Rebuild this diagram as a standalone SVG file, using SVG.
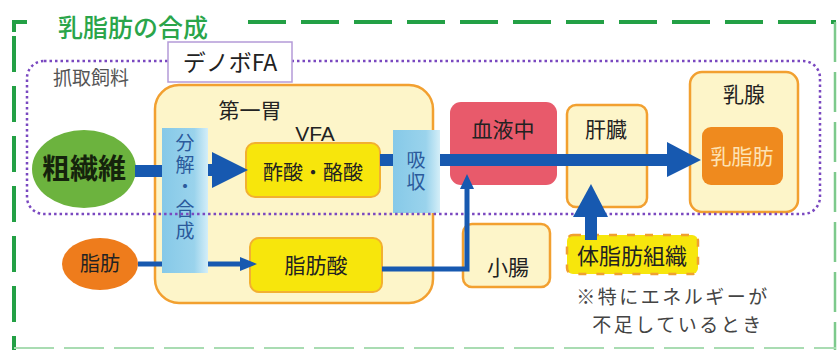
<svg xmlns="http://www.w3.org/2000/svg" width="838" height="350" viewBox="0 0 838 350">
<defs>
<style>
text{font-family:"Noto Sans CJK JP","Noto Sans",sans-serif;text-anchor:middle;fill:#222;}
.lbl{font-size:21px;}
.frame{fill:none;stroke:#23a045;stroke-width:4;}
.ybox{fill:#fdf5c9;stroke:#f2a030;stroke-width:2.5;}
.vbox{fill:#f7e60c;stroke:#f2b030;stroke-width:2;}
.blue{fill:url(#bg);}
.vt{font-size:19px;fill:#2b5a9c;writing-mode:vertical-rl;}
.note{font-size:19px;fill:#444;letter-spacing:2.5px;}
.thick{stroke:#1759b0;stroke-width:12;fill:none;}
.thin{stroke:#1759b0;stroke-width:5;fill:none;}
.head{fill:#1759b0;}
</style>
<linearGradient id="bg" x1="0" y1="0" x2="1" y2="0">
<stop offset="0" stop-color="#86c9e8"/>
<stop offset="0.7" stop-color="#9ad3ec"/>
<stop offset="1" stop-color="#d4eef8"/>
</linearGradient>
</defs>
<rect width="838" height="350" fill="#ffffff"/>

<g id="frame">
<path class="frame" d="M14 32 V22 H27"/>
<path class="frame" d="M14 36 V350" stroke-dasharray="36 14"/>
<path class="frame" d="M248 22 H836" stroke-dasharray="38 15"/>
<path d="M835 22 V350" fill="none" stroke="#7dc98c" stroke-width="2.5" stroke-dasharray="40 10"/>
<path d="M14 348 H836" fill="none" stroke="#a9dcb2" stroke-width="2" stroke-dasharray="40 10"/>
<text x="133" y="37" style="font-size:25px;fill:#2aa54a;font-weight:500">乳脂肪の合成</text>
</g>

<g id="rumen">
<rect class="ybox" x="155" y="85" width="278" height="218" rx="24"/>
<text class="lbl" x="250" y="118">第一胃</text>
<text x="315" y="141" style="font-family:'Liberation Sans',sans-serif;font-size:21px">VFA</text>
</g>

<g id="bunkai">
<rect class="blue" x="162" y="128" width="46" height="145"/>
<text class="vt" x="185" y="188" letter-spacing="3">分解・合成</text>
</g>

<g id="kyushu">
<rect class="blue" x="393" y="130" width="47" height="83"/>
<text class="vt" x="416" y="172" letter-spacing="3">吸収</text>
</g>

<g id="sakusan">
<rect class="vbox" x="246" y="143" width="134" height="54" rx="9"/>
<text class="lbl" x="313" y="180" style="font-size:20px">酢酸・酪酸</text>
</g>

<g id="shibousan">
<rect class="vbox" x="250" y="238" width="132" height="54" rx="9"/>
<text class="lbl" x="316" y="273">脂肪酸</text>
</g>

<g id="soseni">
<ellipse cx="84" cy="169" rx="52" ry="39" fill="#6cb33e"/>
<text x="84" y="179" style="font-size:28px;font-weight:bold;fill:#15230c">粗繊維</text>
</g>

<g id="shibou">
<ellipse cx="100" cy="264" rx="38" ry="26" fill="#ee7c1c"/>
<text class="lbl" x="100" y="271" style="font-size:20px">脂肪</text>
</g>

<g id="ketsueki">
<rect x="450" y="102" width="107" height="83" rx="11" fill="#e85a6b"/>
<text class="lbl" x="503" y="137">血液中</text>
</g>

<g id="kanzo">
<rect class="ybox" x="567" y="105" width="80" height="102" rx="9"/>
<text class="lbl" x="606" y="137">肝臓</text>
</g>

<g id="nyusen">
<rect class="ybox" x="690" y="72" width="108" height="140" rx="12"/>
<text class="lbl" x="744" y="102">乳腺</text>
<rect x="702" y="127" width="81" height="58" rx="9" fill="#ef8a1e"/>
<text class="lbl" x="742" y="164" style="fill:#fde2b4">乳脂肪</text>
</g>

<g id="shocho">
<rect class="ybox" x="463" y="224" width="87" height="63" rx="9"/>
<text class="lbl" x="508" y="275">小腸</text>
</g>

<g id="taishibou">
<rect x="567" y="235" width="131" height="39" rx="6" fill="#f7e60c" stroke="#f0a030" stroke-width="2.5" stroke-dasharray="8 10"/>
<text class="lbl" x="632" y="264" style="font-size:22px">体脂肪組織</text>
</g>

<g id="note">
<text class="note" x="673" y="304">※特にエネルギーが</text>
<text class="note" x="678" y="332">不足しているとき</text>
</g>

<g id="feed">
<rect x="27" y="61" width="793" height="153" rx="17" fill="none" stroke="#7a48c0" stroke-width="2.5" stroke-dasharray="2.5 3"/>
<rect x="168" y="42" width="124" height="40" fill="#ffffff" stroke="#b49ad8" stroke-width="1.5"/>
<text x="230" y="71" style="font-size:23px;fill:#222">デノボFA</text>
<text x="91" y="85" style="font-size:19px;fill:#555">抓取飼料</text>
</g>

<g id="connectors">
<path class="thick" d="M135 171 H162"/>
<path class="thick" d="M208 170 H214"/>
<polygon class="head" points="212,152 248,170 212,188"/>
<path class="thick" d="M380 160 H393"/>
<path class="thick" d="M440 160 H670"/>
<polygon class="head" points="667,142 701,160 667,177"/>
<path class="thin" d="M138 264 H162"/>
<path class="thin" d="M208 264 H242"/>
<polygon class="head" points="240,257 257,264 240,271"/>
<path class="thin" d="M382 269 H467 V186"/>
<polygon class="head" points="460,189 467,174 474,189"/>
<path class="thick" d="M591 240 V214"/>
<polygon class="head" points="573,217 591,184 608,217"/>
</g>
</svg>
